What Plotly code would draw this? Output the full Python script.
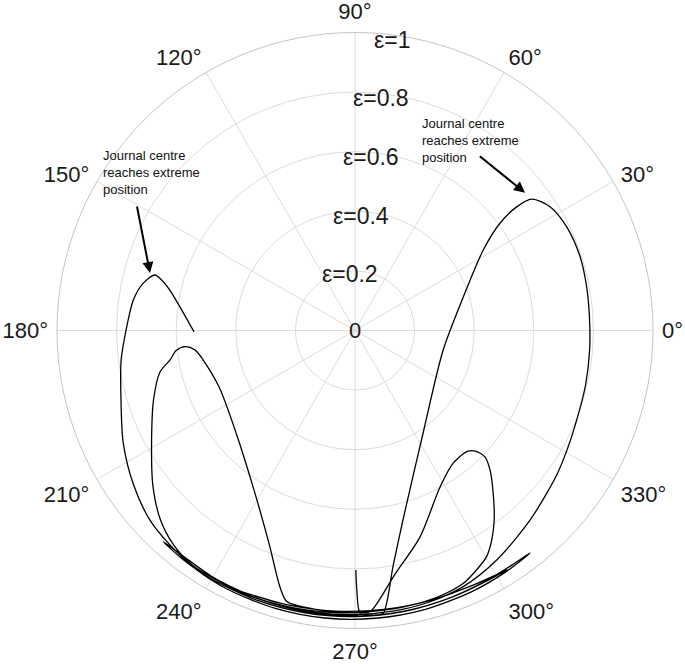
import numpy as np
import plotly.graph_objects as go

# ---------------- data (theta in degrees, eccentricity ratio r) ----------------
start_theta = [270.2, 270.4, 271.0, 272.5, 274.3]
start_r = [0.804, 0.871, 0.948, 0.955, 0.957]

big_lobe_theta = [275.7, 279.2, 284.2, 303.6, 347.5, 17.3, 32.1, 36.5, 37.4, 36.6,
                  32.4, 26.1, 18.2, 10.7, 3.4, 355.3, 346.7, 337.6, 330.5, 324.2,
                  312.7, 301.7, 292.9]
big_lobe_r = [0.954, 0.800, 0.656, 0.413, 0.303, 0.381, 0.508, 0.605, 0.683, 0.739,
              0.775, 0.791, 0.795, 0.791, 0.788, 0.790, 0.795, 0.803, 0.817, 0.833,
              0.866, 0.905, 0.933]

band1_theta = [285, 278, 270, 262, 254, 246, 240, 235.2]
band1_r = [0.945, 0.950, 0.953, 0.955, 0.957, 0.958, 0.958, 0.958]

inner_lobe_theta = [229.7, 224.1, 217.4, 208.8, 199.0, 192.0, 189.1, 186.4, 185.4, 186.9,
                    191.0, 202.6, 221.1, 237.5, 248.2, 253.7, 255.9]
inner_lobe_r = [0.942, 0.910, 0.854, 0.779, 0.715, 0.669, 0.629, 0.604, 0.573, 0.541,
                0.519, 0.494, 0.528, 0.632, 0.774, 0.897, 0.938]

band2_theta = [262, 268, 271.5]
band2_r = [0.945, 0.947, 0.946]

small_lobe_theta = [273.1, 279.3, 287.5, 298.6, 306.5, 312.7, 314.9, 315.8, 314.1, 310.3,
                    306.3, 303.1, 300.2, 296.9, 293.2]
small_lobe_r = [0.945, 0.829, 0.726, 0.597, 0.554, 0.553, 0.571, 0.608, 0.651, 0.717,
                0.789, 0.840, 0.878, 0.901, 0.923]

band3_theta = [288, 280, 270, 260, 252, 246, 244.4,
               248, 256, 266, 276, 286, 295, 300, 302.4,
               298, 290, 280, 270, 260, 250, 240, 233, 227.8,
               232, 240, 250, 260, 270, 280, 290, 298, 304, 308.2,
               302, 294, 284, 274, 264, 254, 244, 236, 229]
band3_r = [0.935, 0.942, 0.947, 0.952, 0.956, 0.958, 0.959,
           0.953, 0.948, 0.944, 0.941, 0.940, 0.942, 0.947, 0.951,
           0.950, 0.952, 0.957, 0.960, 0.962, 0.963, 0.963, 0.961, 0.957,
           0.952, 0.955, 0.957, 0.958, 0.958, 0.956, 0.952, 0.948, 0.947, 0.950,
           0.955, 0.960, 0.965, 0.968, 0.970, 0.970, 0.968, 0.962, 0.950]

outer_lobe_theta = [222.7, 214.7, 205.8, 196.5, 187.2, 179.0, 172.2, 167.4, 164.5,
                    165.4, 167.7, 172.3, 180.5]
outer_lobe_r = [0.937, 0.905, 0.864, 0.819, 0.791, 0.766, 0.751, 0.728, 0.697,
                0.670, 0.636, 0.593, 0.540]

angle_ticks = [0, 30, 60, 90, 120, 150, 180, 210, 240, 270, 300, 330]
angle_labels = ["0°", "30°", "60°", "90°", "120°", "150°", "180°", "210°", "240°",
                "270°", "300°", "330°"]
radial_ticks = [0.2, 0.4, 0.6, 0.8, 1.0]
radial_labels = ["ε=0.2", "ε=0.4", "ε=0.6", "ε=0.8", "ε=1"]
note_text = "Journal centre<br>reaches extreme<br>position"

theta = (start_theta + big_lobe_theta + band1_theta + inner_lobe_theta + band2_theta
         + small_lobe_theta + band3_theta + outer_lobe_theta)
r = (start_r + big_lobe_r + band1_r + inner_lobe_r + band2_r
     + small_lobe_r + band3_r + outer_lobe_r)

# ---------------- layout geometry ----------------
W, H = 685, 664
ML, MR, MT, MB = 57, 32, 32, 35
PW, PH = W - ML - MR, H - MT - MB
CX, CY = ML + PW / 2, MT + PH / 2
R = min(PW, PH) / 2


def px2paper(px, py):
    return (px - ML) / PW, (MT + PH - py) / PH


FONT = "Arial, Liberation Sans, sans-serif"

fig = go.Figure()
fig.add_trace(go.Scatterpolar(
    r=r, theta=theta, mode="lines",
    line=dict(color="black", width=1.3, shape="spline", smoothing=0.8),
    showlegend=False, hoverinfo="skip"))

annotations = []
for v, lab in zip(radial_ticks, radial_labels):
    a = np.deg2rad(80)
    px = CX + v * R * np.cos(a) - 15
    py = CY - v * R * np.sin(a) + 2.5
    x, y = px2paper(px, py)
    annotations.append(dict(x=x, y=y, xref="paper", yref="paper", text=lab,
                            showarrow=False, xanchor="center", yanchor="middle",
                            font=dict(size=23, color="#1a1a1a", family=FONT)))
x0, y0 = px2paper(CX, CY)
annotations.append(dict(x=x0, y=y0, xref="paper", yref="paper", text="0",
                        showarrow=False, xanchor="center", yanchor="middle",
                        font=dict(size=22, color="#1a1a1a", family=FONT)))

for tx, ty in [(101, 146), (420, 114)]:
    x, y = px2paper(tx, ty)
    annotations.append(dict(x=x, y=y, xref="paper", yref="paper", text=note_text,
                            showarrow=False, xanchor="left", yanchor="top", align="left",
                            font=dict(size=13, color="#111", family=FONT)))
for (hx, hy), (tx, ty) in [((150, 273), (136.7, 205)), ((525, 192.7), (478.3, 155))]:
    x, y = px2paper(hx, hy)
    annotations.append(dict(x=x, y=y, xref="paper", yref="paper", text="",
                            showarrow=True, ax=tx - hx, ay=ty - hy,
                            arrowhead=2, arrowsize=1.1, arrowwidth=2, arrowcolor="black",
                            standoff=0, startstandoff=0))

fig.update_layout(
    width=W, height=H,
    margin=dict(l=ML, r=MR, t=MT, b=MB),
    paper_bgcolor="white",
    font=dict(family=FONT),
    polar=dict(
        domain=dict(x=[0, 1], y=[0, 1]),
        bgcolor="white",
        angularaxis=dict(rotation=0, direction="counterclockwise",
                         tickmode="array", tickvals=angle_ticks, ticktext=angle_labels,
                         tickfont=dict(size=22, color="#1a1a1a", family=FONT),
                         ticks="outside", ticklen=4, tickcolor="rgba(0,0,0,0)",
                         showline=True, linecolor="#c4c4c4", linewidth=1,
                         gridcolor="#dcdcdc", gridwidth=1),
        radialaxis=dict(range=[0, 1], tickvals=radial_ticks, showticklabels=False,
                        ticks="", showline=False, gridcolor="#dcdcdc", gridwidth=1,
                        angle=90),
    ),
    annotations=annotations,
)

# remove the browser's default 8px body margin so the figure fills the window
fig.write_html("out.html", config={"displayModeBar": False},
               post_script="document.body.style.margin='0px';")
